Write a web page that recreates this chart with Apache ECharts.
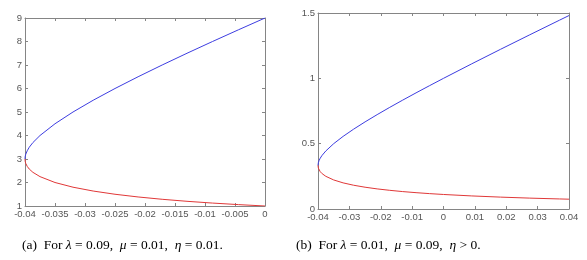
<!DOCTYPE html>
<html>
<head>
<meta charset="utf-8">
<script src="https://cdn.jsdelivr.net/npm/echarts@6/dist/echarts.min.js"></script>
<style>
html,body{margin:0;padding:0;background:#fff;}
#c{width:587px;height:260px;}
</style>
</head>
<body>
<div id="c"></div>
<script>
// Panel (a): lambda = 0.09, mu = 0.01, eta = 0.01
const xA = [-0.04, -0.03997, -0.03988, -0.03963, -0.03929, -0.03868, -0.0375, -0.035, -0.032, -0.02864, -0.025, -0.02115, -0.01714, -0.013, -0.00875, -0.00441, 0];
const upperA = [3, 3.1, 3.2, 3.35, 3.5, 3.7, 4, 4.5, 5, 5.5, 6, 6.5, 7, 7.5, 8, 8.5, 9];
const lowerA = [3, 2.903, 2.8125, 2.6866, 2.5714, 2.4324, 2.25, 2.0, 1.8, 1.6364, 1.5, 1.3846, 1.2857, 1.2, 1.125, 1.0588, 1.0];

// Panel (b): lambda = 0.01, mu = 0.09, eta > 0
const xB = [-0.04, -0.03997, -0.03988, -0.03963, -0.03929, -0.03868, -0.0375, -0.035, -0.032, -0.02864, -0.025, -0.02115, -0.01714, -0.013, -0.00875, -0.00441, 0, 0.009, 0.01818, 0.0275, 0.03692, 0.04];
const upperB = [0.3333, 0.3444, 0.3556, 0.3722, 0.3889, 0.4111, 0.4444, 0.5, 0.5556, 0.6111, 0.6667, 0.7222, 0.7778, 0.8333, 0.8889, 0.9444, 1.0, 1.1111, 1.2222, 1.3333, 1.4444, 1.4806];
const lowerB = [0.3333, 0.3226, 0.3125, 0.2985, 0.2857, 0.2703, 0.25, 0.2222, 0.2, 0.1818, 0.1667, 0.1538, 0.1429, 0.1333, 0.125, 0.1176, 0.1111, 0.1, 0.0909, 0.0833, 0.0769, 0.075];

const captionA = '(a)  For {i|λ} = 0.09,  {i|μ} = 0.01,  {i|η} = 0.01.';
const captionB = '(b)  For {i|λ} = 0.01,  {i|μ} = 0.09,  {i|η} > 0.';

const axisColor = '#858585';
const labelColor = '#555';
const labelFont = 'Liberation Sans';
const blue = '#3d3de0';
const red = '#e03838';

function fmt(v){ return String(+(+v).toFixed(4)); }

function mainX(grid, min, max, interval){
  return {type:'value', gridIndex:grid, min:min, max:max, interval:interval, position:'bottom',
    axisLine:{show:true, onZero:false, lineStyle:{color:axisColor, width:1}},
    axisTick:{show:true, inside:true, length:3, lineStyle:{color:axisColor}},
    axisLabel:{show:true, color:labelColor, fontSize:9.5, fontFamily:labelFont, margin:3, formatter:fmt},
    splitLine:{show:false}};
}
function topX(grid, min, max, interval){
  return {type:'value', gridIndex:grid, min:min, max:max, interval:interval, position:'top',
    axisLine:{show:true, onZero:false, lineStyle:{color:axisColor, width:1}},
    axisTick:{show:true, inside:true, length:3, lineStyle:{color:axisColor}},
    axisLabel:{show:false}, splitLine:{show:false}};
}
function mainY(grid, min, max, interval){
  return {type:'value', gridIndex:grid, min:min, max:max, interval:interval, position:'left',
    axisLine:{show:true, onZero:false, lineStyle:{color:axisColor, width:1}},
    axisTick:{show:true, inside:true, length:3, lineStyle:{color:axisColor}},
    axisLabel:{show:true, color:labelColor, fontSize:9.5, fontFamily:labelFont, margin:3, formatter:fmt},
    splitLine:{show:false}};
}
function rightY(grid, min, max, interval){
  return {type:'value', gridIndex:grid, min:min, max:max, interval:interval, position:'right',
    axisLine:{show:true, onZero:false, lineStyle:{color:axisColor, width:1}},
    axisTick:{show:true, inside:true, length:3, lineStyle:{color:axisColor}},
    axisLabel:{show:false}, splitLine:{show:false}};
}
function pairs(xs, ys){ return xs.map((x,i)=>[x, ys[i]]); }
function line(xi, yi, data, color){
  return {type:'line', xAxisIndex:xi, yAxisIndex:yi, data:data, showSymbol:false, symbol:'none',
    lineStyle:{color:color, width:1}, itemStyle:{color:color}, animation:false, z:3};
}

const captionStyle = {fontFamily:'Liberation Serif', fontSize:13.5, fontWeight:'normal', color:'#000',
  rich:{i:{fontFamily:'Liberation Serif', fontSize:13.5, fontStyle:'italic', color:'#000'}}};

const chart = echarts.init(document.getElementById('c'), null, {renderer:'canvas'});
chart.setOption({
  backgroundColor:'#fff',
  animation:false,
  title:[
    {text:captionA, left:22, top:238, textStyle:captionStyle, padding:0},
    {text:captionB, left:296, top:238, textStyle:captionStyle, padding:0}
  ],
  grid:[
    {left:25, top:18, width:240, height:188, containLabel:false},
    {left:318, top:13, width:251, height:196, containLabel:false}
  ],
  xAxis:[
    mainX(0, -0.04, 0, 0.005), topX(0, -0.04, 0, 0.005),
    mainX(1, -0.04, 0.04, 0.01), topX(1, -0.04, 0.04, 0.01)
  ],
  yAxis:[
    mainY(0, 1, 9, 1), rightY(0, 1, 9, 1),
    mainY(1, 0, 1.5, 0.5), rightY(1, 0, 1.5, 0.5)
  ],
  series:[
    line(0, 0, pairs(xA, upperA), blue),
    line(0, 0, pairs(xA, lowerA), red),
    line(2, 2, pairs(xB, upperB), blue),
    line(2, 2, pairs(xB, lowerB), red)
  ]
});
</script>
</body>
</html>
